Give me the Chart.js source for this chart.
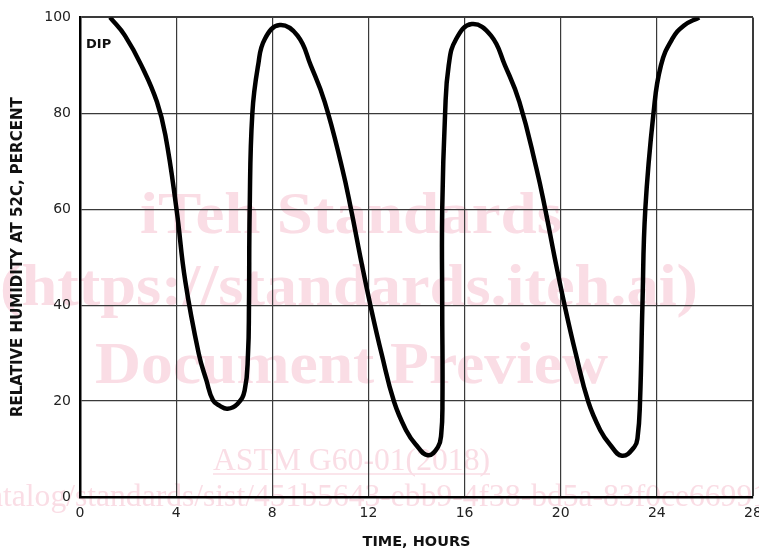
<!DOCTYPE html>
<html>
<head>
<meta charset="utf-8">
<script src="https://cdn.jsdelivr.net/npm/chart.js@4.4.1/dist/chart.umd.min.js"></script>
<style>
  html, body { margin: 0; padding: 0; background: #fff; }
  #wrap { position: relative; width: 759px; height: 553px; }
</style>
</head>
<body>
<div id="wrap"><canvas id="rhChart"></canvas></div>
<script>
// time (hours) and relative humidity (%)
const hours = [
  1.25, 1.87, 2.62, 3.2, 3.55, 4.01, 4.38, 4.94, 5.26, 5.53, 5.82, 6.14, 6.55, 6.85, 6.99, 7.03, 7.06, 7.17, 7.41, 7.69, 8.31,
  9.05, 9.6, 10.18, 10.91, 11.28, 11.67, 12.09, 12.55, 13.07, 13.59, 13.96, 14.47, 14.89, 15.03, 15.08, 15.07, 15.07, 15.19, 15.34, 15.65, 16.3,
  17.1, 17.68, 18.28, 18.99, 19.36, 19.75, 20.17, 20.63, 21.15, 21.67, 22.04, 22.55, 23.06, 23.2, 23.3, 23.4, 23.52, 23.86, 24.17, 24.64, 25.13, 25.76
];
const humidity = [
  100, 96.2, 89.3, 82.4, 75.5, 60.2, 45.0, 29.9, 24.3, 20.2, 19.0, 18.4, 19.4, 22.2, 29.9, 39.8, 60, 80, 90, 95.5, 98.4,
  96.2, 90, 82.4, 68.5, 59.9, 49.9, 39.8, 29.8, 19.8, 13.7, 11.0, 8.7, 10.4, 13.2, 20, 40, 60, 80, 90, 95.5, 98.6,
  96.2, 90, 82.4, 68.5, 59.9, 49.9, 39.8, 29.8, 19.8, 13.7, 11.0, 8.6, 10.4, 12.5, 20, 40, 60, 80, 90, 95.5, 98.3, 100
];
const xTicks = [0, 4, 8, 12, 16, 20, 24, 28];
const yTicks = [0, 20, 40, 60, 80, 100];
const curveLabel = 'DIP';
const xTitle = 'TIME, HOURS';
const yTitle = 'RELATIVE HUMIDITY AT 52C, PERCENT';

const watermark = [
  { text: 'iTeh Standards', left: 140, right: 562, base: 233, size: 60, bold: true },
  { text: '(https://standards.iteh.ai)', left: 0, right: 698, base: 305, size: 60, bold: true },
  { text: 'Document Preview', left: 95, right: 608, base: 383, size: 60, bold: true },
  { text: 'ASTM G60-01(2018)', left: 213, right: 490, base: 470, size: 31, bold: false, underline: true },
  { text: 'catalog/standards/sist/451b5643-ebb9-4f38-bd5a-83f0ce66991', left: -25, right: 768, base: 506, size: 31, bold: false }
];

const pink = '#fadde5';

const watermarkPlugin = {
  id: 'watermark',
  beforeDraw(chart) {
    const ctx = chart.ctx;
    ctx.save();
    ctx.fillStyle = '#fff';
    ctx.fillRect(0, 0, chart.width, chart.height);
    ctx.fillStyle = pink;
    ctx.strokeStyle = pink;
    ctx.textBaseline = 'alphabetic';
    ctx.textAlign = 'left';
    watermark.forEach(w => {
      ctx.font = (w.bold ? 'bold ' : '') + w.size + 'px "Liberation Serif", "Times New Roman", serif';
      const tw = ctx.measureText(w.text).width;
      const sx = (w.right - w.left) / tw;
      ctx.save();
      ctx.translate(w.left, w.base);
      ctx.scale(sx, 1);
      ctx.fillText(w.text, 0, 0);
      ctx.restore();
      if (w.underline) {
        ctx.lineWidth = 1.5;
        ctx.beginPath();
        ctx.moveTo(w.left, w.base + 4);
        ctx.lineTo(w.right, w.base + 4);
        ctx.stroke();
      }
    });
    ctx.restore();
  }
};

const labelPlugin = {
  id: 'curveLabel',
  afterDatasetsDraw(chart) {
    const ctx = chart.ctx;
    const x = chart.scales.x.getPixelForValue(0.25);
    const y = chart.scales.y.getPixelForValue(94.3);
    ctx.save();
    ctx.font = 'bold 13px "DejaVu Sans", Verdana, sans-serif';
    ctx.fillStyle = '#111';
    ctx.textAlign = 'left';
    ctx.textBaseline = 'middle';
    ctx.fillText(curveLabel, x, y);
    ctx.restore();
  }
};

const points = hours.map((h, i) => ({ x: h, y: humidity[i] }));

new Chart(document.getElementById('rhChart'), {
  type: 'line',
  data: {
    datasets: [{
      data: points,
      borderColor: '#000',
      borderWidth: 4.5,
      pointRadius: 0,
      fill: false,
      tension: 0.45,
      borderCapStyle: 'butt',
      borderJoinStyle: 'round'
    }]
  },
  options: {
    responsive: true,
    maintainAspectRatio: false,
    animation: false,
    layout: { padding: { top: 15, right: 6, left: 0, bottom: 0 } },
    plugins: { legend: { display: false }, tooltip: { enabled: false } },
    scales: {
      x: {
        type: 'linear',
        min: 0,
        max: 28,
        afterBuildTicks: s => { s.ticks = xTicks.map(v => ({ value: v })); },
        afterFit: s => { s.height = 56; s.paddingRight = 6; s.paddingLeft = 0; },
        grid: {
          color: '#3a3a3a',
          lineWidth: c => (c.index === xTicks.length - 1 ? 2 : 1.2),
          drawTicks: false
        },
        border: { color: '#000', width: 2.5 },
        ticks: {
          padding: 8,
          color: '#222',
          font: { family: '"DejaVu Sans", Verdana, sans-serif', size: 14 },
          maxRotation: 0
        },
        title: {
          display: true,
          text: xTitle,
          color: '#111',
          font: { family: '"DejaVu Sans", Verdana, sans-serif', size: 14.5, weight: 'bold' },
          padding: { top: 0, bottom: 2 }
        }
      },
      y: {
        min: 0,
        max: 100,
        afterBuildTicks: s => { s.ticks = yTicks.map(v => ({ value: v })); },
        afterFit: s => { s.width = 80; },
        grid: {
          color: '#3a3a3a',
          lineWidth: c => (c.index === yTicks.length - 1 ? 2 : 1.2),
          drawTicks: false
        },
        border: { color: '#000', width: 2.5 },
        ticks: {
          padding: 9,
          color: '#222',
          font: { family: '"DejaVu Sans", Verdana, sans-serif', size: 14 }
        },
        title: {
          display: true,
          text: yTitle,
          color: '#111',
          font: { family: '"DejaVu Sans", Verdana, sans-serif', size: 15, weight: 'bold' },
          padding: { top: 9, bottom: 0 }
        }
      }
    }
  },
  plugins: [watermarkPlugin, labelPlugin]
});
</script>
</body>
</html>
